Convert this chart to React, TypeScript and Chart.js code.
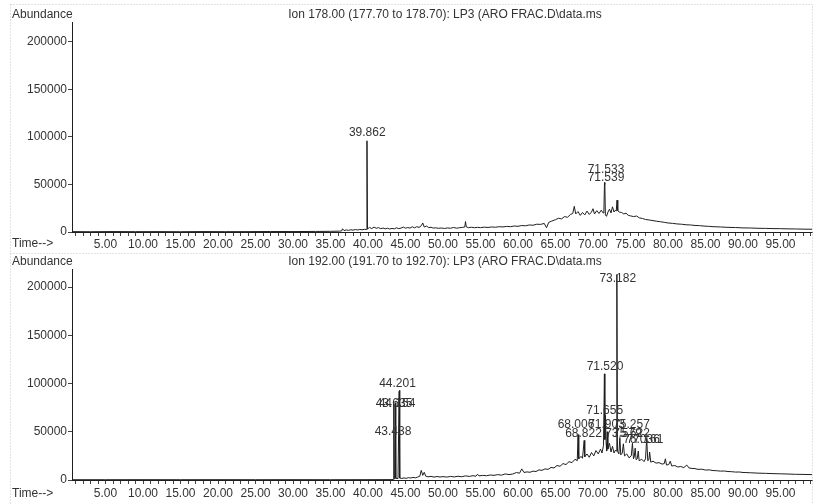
import React, { useEffect, useRef } from 'react';
import { Chart, registerables } from 'chart.js';

Chart.register(...registerables);

// ---------- axes ----------
const X_MIN = 0.53;
const X_MAX = 99.2;
const X_MINOR_STEP = 1;
const X_LABEL_TICKS = [5, 10, 15, 20, 25, 30, 35, 40, 45, 50, 55, 60, 65, 70, 75, 80, 85, 90, 95];
const Y_TICKS = [0, 50000, 100000, 150000, 200000];

// ---------- titles ----------
const TITLE_178 = 'Ion 178.00 (177.70 to 178.70): LP3 (ARO FRAC.D\\data.ms';
const TITLE_192 = 'Ion 192.00 (191.70 to 192.70): LP3 (ARO FRAC.D\\data.ms';

// ---------- series: [time (min), abundance] ----------
const ION178: [number, number][] = [
  [0.53, 400], [3, 300], [6, 450], [9, 350], [12, 400], [15, 300], [18, 450], [21, 350], [24, 400],
  [27, 500], [30, 450], [33, 600], [35, 700], [36.2, 900], [36.5, 1200], [36.6, 3400], [36.8, 1500],
  [37.1, 2200], [37.4, 1700], [37.7, 2400], [38.0, 1900], [38.3, 2600], [38.6, 2100], [38.9, 2700],
  [39.2, 2300], [39.5, 2800], [39.8, 2600], [39.862, 96000], [39.93, 3200], [40.2, 4800], [40.5, 3600],
  [40.8, 5200], [41.1, 3900], [41.4, 4600], [41.7, 3500], [42.0, 4200], [42.3, 3300], [42.6, 4000],
  [42.9, 3100], [43.2, 3800], [43.5, 3300], [43.8, 4400], [44.1, 3600], [44.4, 4100], [44.7, 5200],
  [45.0, 4000], [45.3, 4700], [45.6, 4100], [45.9, 5500], [46.2, 4300], [46.5, 5600], [46.8, 4800],
  [47.1, 6500], [47.3, 9500], [47.5, 5200], [47.8, 6300], [48.1, 4600], [48.4, 5000], [48.7, 4100],
  [49.0, 4400], [49.4, 3900], [49.8, 4200], [50.2, 3700], [50.6, 4300], [51.0, 3900], [51.4, 4800],
  [51.8, 4000], [52.2, 4500], [52.6, 4900], [52.9, 5200], [53.0, 11000], [53.1, 5400], [53.4, 4600],
  [53.8, 5000], [54.2, 4500], [54.6, 4900], [55.0, 4600], [55.5, 5100], [56.0, 4800], [56.5, 5300],
  [57.0, 5000], [57.5, 5600], [58.0, 5300], [58.5, 5900], [59.0, 5600], [59.5, 6300], [60.0, 6000],
  [60.5, 6800], [61.0, 6500], [61.5, 7400], [62.0, 7100], [62.5, 8200], [63.0, 8000], [63.5, 9000],
  [63.8, 4500], [64.1, 10200], [64.5, 11500], [65.0, 13000], [65.4, 14500], [65.8, 13800], [66.2, 16200],
  [66.6, 15500], [67.0, 18500], [67.3, 19500], [67.5, 27000], [67.7, 19000], [68.0, 21500], [68.3, 17500],
  [68.6, 20500], [68.9, 18000], [69.2, 22000], [69.5, 18500], [69.8, 21000], [70.0, 24500], [70.2, 19000],
  [70.5, 22500], [70.8, 19500], [71.1, 23000], [71.35, 20000], [71.45, 22000], [71.533, 52000],
  [71.58, 50000], [71.65, 18000], [71.8, 16500], [72.0, 21000], [72.2, 24000], [72.4, 20000],
  [72.6, 26500], [72.8, 21000], [73.0, 23000], [73.1, 22000], [73.2, 33500], [73.3, 22500], [73.5, 21000],
  [73.8, 20500], [74.1, 19000], [74.4, 19800], [74.7, 17500], [75.0, 17000], [75.4, 16200], [75.8, 16800],
  [76.2, 14800], [76.6, 14200], [77.0, 13200], [77.5, 12600], [78.0, 12000], [78.5, 11300], [79.0, 10800],
  [79.5, 10200], [80.0, 9500], [80.6, 9100], [81.2, 8500], [81.8, 8200], [82.4, 7600], [83.0, 7400],
  [83.6, 6900], [84.2, 6700], [84.8, 6200], [85.4, 6000], [86.0, 5600], [87.0, 5300], [88.0, 4900],
  [89.0, 4700], [90.0, 4300], [91.0, 4200], [92.0, 3900], [93.0, 3800], [94.0, 3600], [95.0, 3500],
  [96.0, 3300], [97.0, 3200], [98.0, 3000], [99.2, 2900],
];

const ION192: [number, number][] = [
  [0.53, 300], [5, 300], [10, 350], [15, 300], [20, 350], [25, 300], [30, 350], [35, 300], [40, 350],
  [43.2, 400], [43.38, 600], [43.438, 79000], [43.5, 1500], [43.58, 1200], [43.635, 80000], [43.7, 1800],
  [44.0, 1500], [44.154, 92000], [44.201, 93000], [44.26, 2000], [44.5, 1600], [44.8, 2200], [45.1, 1700],
  [45.4, 2500], [45.7, 2000], [46.0, 2800], [46.3, 2200], [46.6, 3000], [46.9, 3800], [47.1, 10000],
  [47.3, 4800], [47.5, 8000], [47.7, 4000], [48.0, 3300], [48.4, 3800], [48.8, 3000], [49.2, 3600],
  [49.6, 3100], [50.0, 3500], [50.5, 3000], [51.0, 3700], [51.5, 3200], [52.0, 3900], [52.5, 3400],
  [53.0, 4300], [53.5, 3700], [54.0, 4500], [54.4, 3900], [54.6, 6000], [54.8, 4200], [55.3, 4800],
  [55.8, 4400], [56.3, 5200], [56.8, 4800], [57.3, 5600], [57.8, 5000], [58.3, 6300], [58.8, 5600],
  [59.3, 6200], [59.8, 7800], [60.2, 7000], [60.5, 11500], [60.8, 7800], [61.2, 8400], [61.6, 8000],
  [62.0, 9200], [62.4, 8800], [62.8, 10500], [63.2, 10000], [63.6, 11500], [64.0, 11000], [64.4, 13000],
  [64.8, 12500], [65.2, 15000], [65.6, 14200], [66.0, 17000], [66.4, 16000], [66.8, 19000], [67.2, 18000],
  [67.6, 21500], [67.9, 20000], [68.006, 47000], [68.1, 22000], [68.4, 24500], [68.6, 22500],
  [68.822, 41000], [68.9, 24000], [69.2, 27000], [69.5, 23500], [69.8, 28500], [70.1, 25000],
  [70.4, 30500], [70.7, 27000], [71.0, 32000], [71.2, 28000], [71.4, 36000], [71.52, 110000],
  [71.58, 42000], [71.655, 67000], [71.75, 38000], [71.82, 30000], [71.903, 50000], [71.98, 32000],
  [72.2, 38000], [72.4, 29000], [72.6, 35000], [72.8, 28000], [73.0, 31000], [73.1, 30000],
  [73.182, 213000], [73.26, 30000], [73.45, 27000], [73.579, 44000], [73.7, 26000], [73.9, 28000],
  [74.05, 37500], [74.2, 25000], [74.5, 27000], [74.8, 23000], [75.1, 25000], [75.257, 38000],
  [75.4, 22000], [75.5, 24000], [75.622, 33000], [75.75, 21000], [75.9, 22000], [76.036, 30000],
  [76.15, 20000], [76.5, 21500], [76.8, 19000], [77.0, 22000], [77.161, 43000], [77.3, 20000],
  [77.45, 21000], [77.55, 29000], [77.7, 18500], [78.0, 19500], [78.4, 17500], [78.8, 18000],
  [79.2, 16500], [79.5, 17000], [79.65, 22000], [79.8, 15500], [80.1, 16000], [80.3, 19500],
  [80.5, 14500], [80.9, 15000], [81.3, 13500], [81.7, 14000], [82.1, 12800], [82.5, 15500],
  [82.8, 12500], [83.2, 12000], [83.6, 11800], [84.0, 11000], [84.5, 11200], [85.0, 10300],
  [85.5, 10500], [86.0, 9800], [86.5, 9600], [87.0, 9200], [87.5, 9300], [88.0, 8800], [88.5, 8600],
  [89.0, 8200], [89.5, 8300], [90.0, 7800], [91.0, 7500], [92.0, 7100], [93.0, 6900], [94.0, 6600],
  [95.0, 6400], [96.0, 6200], [97.0, 5900], [98.0, 5800], [99.2, 5600],
];

// ---------- peak labels: [text, time of label centre, abundance of label centre] ----------
const LABELS_178: [string, number, number][] = [
  ['39.862', 39.9, 104000],
  ['71.533', 71.73, 65300],
  ['71.539', 71.73, 56800],
];

const LABELS_192: [string, number, number][] = [
  ['44.201', 43.93, 100200],
  ['43.635', 43.47, 79500],
  ['44.154', 43.87, 79500],
  ['43.438', 43.33, 50000],
  ['73.182', 73.3, 209000],
  ['71.520', 71.6, 117100],
  ['71.655', 71.56, 72200],
  ['68.006', 67.73, 57700],
  ['71.903', 71.8, 57700],
  ['75.257', 75.13, 57700],
  ['68.822', 68.73, 48000],
  ['73.579', 74.07, 48000],
  ['75.622', 75.13, 48000],
  ['76.036', 76.47, 41500],
  ['77.161', 76.93, 41500],
];

const FONT = "'Liberation Sans', Arial, Helvetica, sans-serif";
const TEXT = '#333333';
const INK = '#1e1e1e';

type PanelProps = {
  series: [number, number][];
  labels: [string, number, number][];
  title: string;
  yMax: number;
  padTop: number;
  xAxisH: number;
  xTickPad: number;
  headY: number;
  timeY: number;
  frameTop: number;
};

function Panel(p: PanelProps) {
  const ref = useRef<HTMLCanvasElement | null>(null);
  useEffect(() => {
    if (!ref.current) return;
    const textPlugin = {
      id: 'chemText',
      afterDraw(chart: any) {
        const { ctx } = chart;
        ctx.save();
        // frame
        ctx.strokeStyle = '#c4c4c4';
        ctx.lineWidth = 1;
        ctx.setLineDash([1, 2]);
        ctx.strokeRect(10.5, p.frameTop + 0.5, 802, 400);
        ctx.setLineDash([]);
        ctx.font = `12px ${FONT}`;
        ctx.fillStyle = TEXT;
        ctx.textBaseline = 'middle';
        ctx.textAlign = 'left';
        ctx.fillText('Abundance', 12, p.headY);
        ctx.fillText('Time-->', 12, p.timeY);
        ctx.textAlign = 'center';
        ctx.fillText(p.title, 445, p.headY);
        const xs = chart.scales.x;
        const ys = chart.scales.y;
        for (const [txt, t, v] of p.labels) {
          ctx.fillText(txt, xs.getPixelForValue(t), ys.getPixelForValue(v));
        }
        ctx.restore();
      },
    };
    const chart = new Chart(ref.current, {
      type: 'line',
      data: {
        datasets: [
          {
            data: p.series.map(([x, y]) => ({ x, y })),
            borderColor: INK,
            borderWidth: 1,
            pointRadius: 0,
            tension: 0,
            fill: false,
          },
        ],
      },
      options: {
        animation: false,
        responsive: false,
        devicePixelRatio: 1,
        events: [],
        layout: { padding: { top: p.padTop, right: 2, bottom: 0, left: 0 } },
        plugins: { legend: { display: false }, tooltip: { enabled: false } },
        scales: {
          x: {
            type: 'linear',
            min: X_MIN,
            max: X_MAX,
            afterBuildTicks: (s: any) => {
              const arr: { value: number }[] = [];
              for (let v = Math.ceil(X_MIN); v <= X_MAX; v += X_MINOR_STEP) arr.push({ value: v });
              s.ticks = arr;
            },
            afterFit: (s: any) => {
              s.height = p.xAxisH;
            },
            ticks: {
              autoSkip: false,
              maxRotation: 0,
              minRotation: 0,
              padding: p.xTickPad,
              color: TEXT,
              font: { family: FONT, size: 12 },
              callback: (v: any) => (X_LABEL_TICKS.includes(Number(v)) ? Number(v).toFixed(2) : ''),
            },
            grid: { drawOnChartArea: false, drawTicks: true, tickLength: 4, color: '#444' },
            border: { display: true, color: INK, width: 1 },
          },
          y: {
            type: 'linear',
            min: 0,
            max: p.yMax,
            afterBuildTicks: (s: any) => {
              s.ticks = Y_TICKS.map((v) => ({ value: v }));
            },
            afterFit: (s: any) => {
              s.width = 72;
            },
            ticks: {
              padding: 1,
              color: TEXT,
              font: { family: FONT, size: 12 },
              callback: (v: any) => String(v),
            },
            grid: { drawOnChartArea: false, drawTicks: true, tickLength: 4, color: '#444' },
            border: { display: true, color: INK, width: 1 },
          },
        },
      },
      plugins: [textPlugin],
    } as any);
    return () => chart.destroy();
  }, []);
  return <canvas ref={ref} width={814} height={252} style={{ display: 'block', width: 814, height: 252 }} />;
}

export default function App() {
  return (
    <div style={{ position: 'absolute', left: 0, top: 0, width: 814, height: 504, background: '#fff', overflow: 'hidden' }}>
      <Panel
        series={ION178}
        labels={LABELS_178}
        title={TITLE_178}
        yMax={221000}
        padTop={22}
        xAxisH={20}
        xTickPad={1}
        headY={15}
        timeY={244}
        frameTop={4}
      />
      <Panel
        series={ION192}
        labels={LABELS_192}
        title={TITLE_192}
        yMax={218700}
        padTop={17}
        xAxisH={24}
        xTickPad={2}
        headY={10}
        timeY={242}
        frameTop={1}
      />
    </div>
  );
}
